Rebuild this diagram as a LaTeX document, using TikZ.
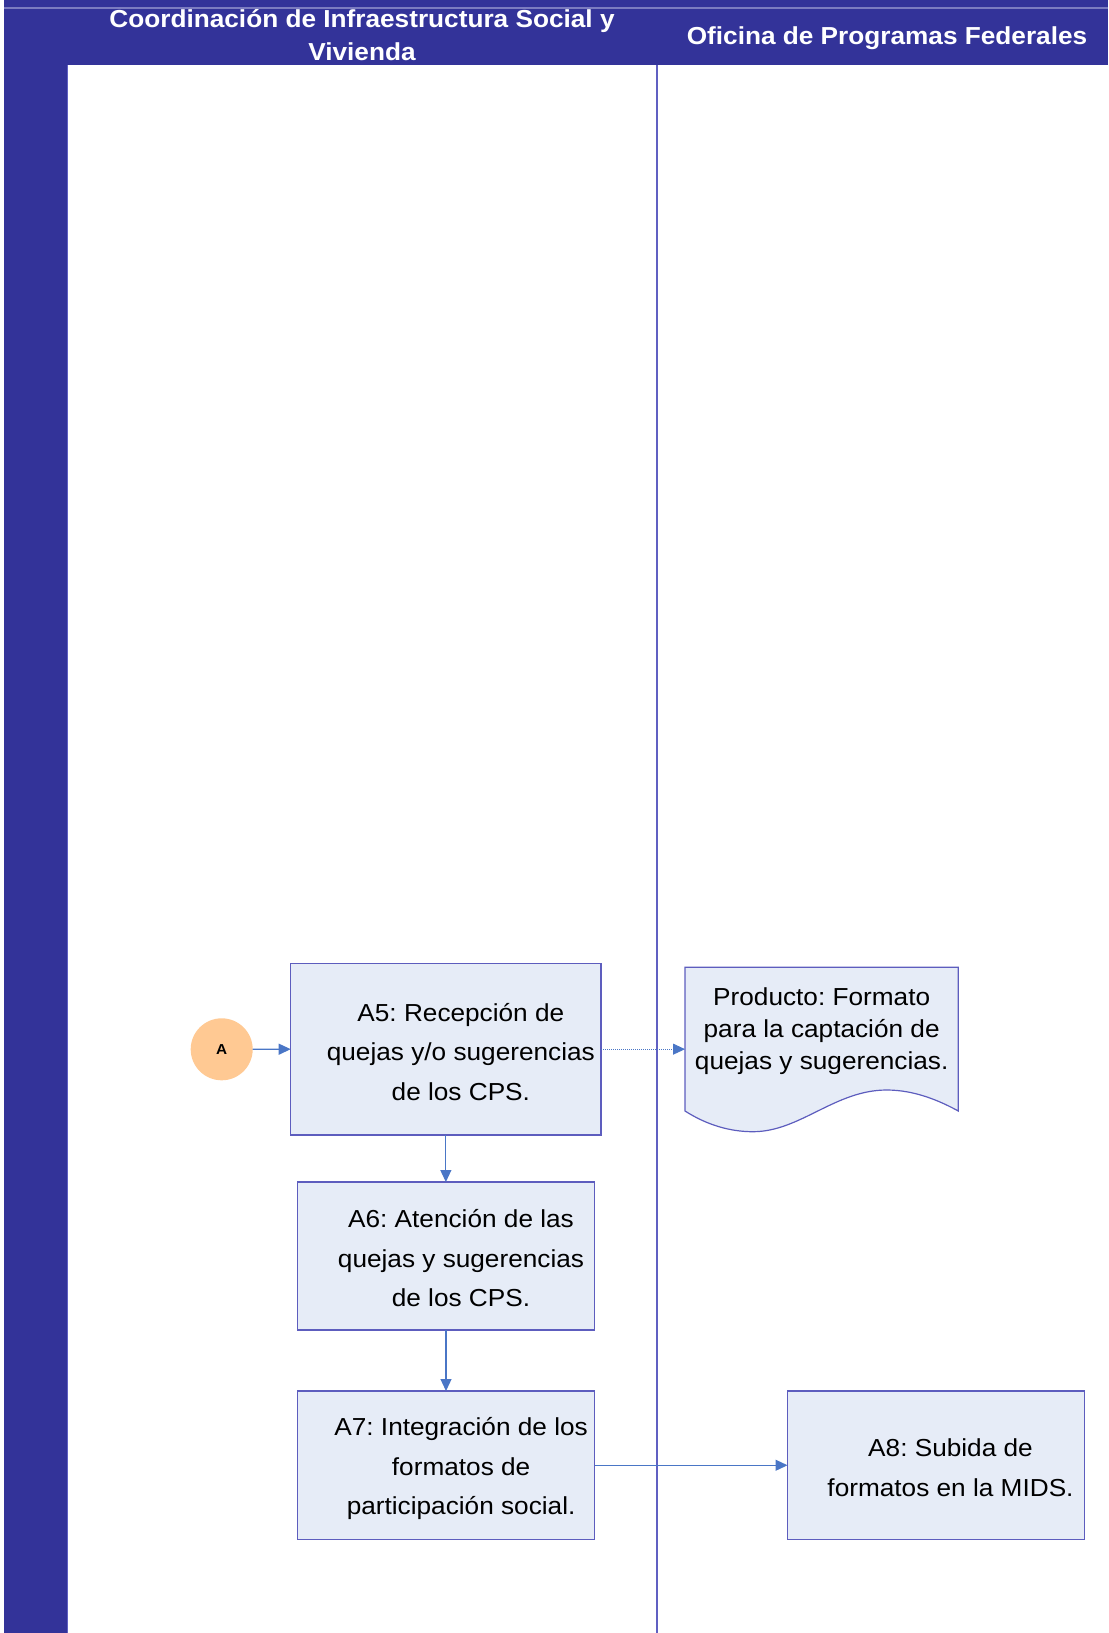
\documentclass[tikz,border=0pt]{standalone}
\usepackage{fontspec}
\setmainfont[FakeStretch=1.065]{Liberation Sans}
\usetikzlibrary{arrows.meta}

\definecolor{lanebar}{HTML}{333399}
\definecolor{laneline}{HTML}{6060C2}
\definecolor{lanerule}{HTML}{7C7CC0}
\definecolor{boxfill}{HTML}{E6ECF7}
\definecolor{boxline}{HTML}{5D5DBE}
\definecolor{flow}{HTML}{4A76C6}
\definecolor{connfill}{HTML}{FFC993}

\begin{document}
\frenchspacing
\begin{tikzpicture}[x=1bp,y=-1bp,
  every node/.style={inner sep=0pt,outer sep=0pt},
  headtext/.style={text=white,align=center,
    font=\bfseries\fontsize{24.6bp}{32.5bp}\selectfont},
  bodytext/.style={align=center,font=\fontsize{24.6bp}{39.5bp}\selectfont},
  activity/.style={rectangle,draw=boxline,line width=1.2bp,fill=boxfill,
    minimum width=297bp,minimum height=148.5bp},
  docshape/.style={rectangle,minimum width=273.3bp,minimum height=143.7bp},
  connector/.style={circle,fill=connfill,minimum size=62bp,
    font=\bfseries\fontsize{14.4bp}{16bp}\selectfont},
  flowarrow/.style={draw=flow,line width=1.2bp,
    -{Triangle[length=12bp,width=11bp]},color=flow},
  prodarrow/.style={flowarrow,line width=0.9bp,dash pattern=on 1bp off 1bp}
]
\useasboundingbox (0,0) rectangle (1108,1633);

% swimlane frame
\fill[lanebar] (4,0) rectangle (1108,65);
\fill[lanebar] (4,0) rectangle (67,1633);
\draw[lanerule,line width=1.2bp] (4,8) -- (1108,8);
\draw[laneline,line width=1bp] (67.5,65) -- (67.5,1633);
\draw[laneline,line width=2bp] (657,65) -- (657,1633);

% lane titles (base anchor = last line)
\node[headtext,anchor=base] (h1) at (362,60.5)
  {Coordinación de Infraestructura Social y\\Vivienda};
\node[headtext,anchor=base] (h2) at (887,45) {Oficina de Programas Federales};

% off-page connector
\node[connector] (conA) at (221.7,1049.3) {A};

% activities
\node[activity,minimum width=310.3bp,minimum height=171.7bp] (a5) at (445.85,1049.15) {};
\node[bodytext,anchor=center] (a5t) at ([xshift=15bp,yshift=-2.5bp]a5.center)
  {A5: Recepción de\\quejas y/o sugerencias\\de los CPS.};

\node[activity,minimum width=296.8bp,minimum height=148bp] (a6) at (446,1256) {};
\node[bodytext,anchor=center] (a6t) at ([xshift=15bp,yshift=-2.5bp]a6.center)
  {A6: Atención de las\\quejas y sugerencias\\de los CPS.};

\node[activity] (a7) at (446.1,1465.25) {};
\node[bodytext,anchor=center] (a7t) at ([xshift=15bp,yshift=-3.5bp]a7.center)
  {A7: Integración de los\\formatos de\\participación social.};

\node[activity] (a8) at (936,1465.25) {};
\node[bodytext,anchor=center] (a8t) at ([xshift=14.5bp,yshift=-2.5bp]a8.center)
  {A8: Subida de\\formatos en la MIDS.};

% product document with wavy lower edge
\node[docshape] (doc) at (821.65,1039.15) {};
\draw[draw=boxline,line width=1.2bp,fill=boxfill]
  (doc.south west) -- (doc.north west) -- (doc.north east) -- (doc.south east)
  .. controls ([xshift=255bp,yshift=10bp]doc.south west)
  and ([xshift=230bp,yshift=21bp]doc.south west) .. ([xshift=201.7bp,yshift=21bp]doc.south west)
  .. controls ([xshift=150bp,yshift=21bp]doc.south west)
  and ([xshift=115bp,yshift=-20.7bp]doc.south west) .. ([xshift=68bp,yshift=-20.7bp]doc.south west)
  .. controls ([xshift=45bp,yshift=-20.7bp]doc.south west)
  and ([xshift=22bp,yshift=-14bp]doc.south west) .. (doc.south west) -- cycle;
\node[bodytext,font=\fontsize{24.6bp}{31.7bp}\selectfont,anchor=center] (doct)
  at ([yshift=8bp]doc.center)
  {Producto: Formato\\para la captación de\\quejas y sugerencias.};

% flow
\draw[flowarrow] (conA.east) -- (a5.west);
\draw[prodarrow] (a5.east) -- (a5.east -| doc.west);
\draw[flowarrow] (a5.south) -- (a5.south |- a6.north);
\draw[flowarrow] (a6.south) -- (a6.south |- a7.north);
\draw[flowarrow] (a7.east) -- (a7.east -| a8.west);
\end{tikzpicture}
\end{document}
